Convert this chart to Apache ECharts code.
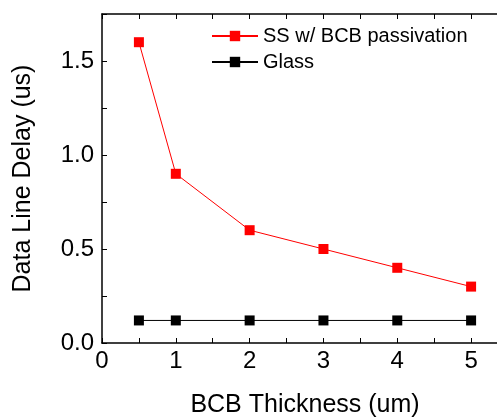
<!DOCTYPE html>
<html>
<head>
<meta charset="utf-8">
<script src="https://cdn.jsdelivr.net/npm/echarts@6/dist/echarts.min.js"></script>
<style>
  html, body { margin: 0; padding: 0; background: #fff; }
  #chart { width: 497px; height: 417px; }
</style>
</head>
<body>
<div id="chart"></div>
<script>
// BCB thickness (um) and measured data line delay (us)
const thickness = [0.5, 1, 2, 3, 4, 5];
const ssDelay = [1.6, 0.9, 0.6, 0.5, 0.4, 0.3];
const glassDelay = [0.12, 0.12, 0.12, 0.12, 0.12, 0.12];
const seriesNames = ['SS w/ BCB passivation', 'Glass'];

const FONT = 'Liberation Sans, Arial, sans-serif';

const chart = echarts.init(document.getElementById('chart'), null, { renderer: 'canvas' });

const pairs = (xs, ys) => xs.map((x, i) => [x, ys[i]]);

const axisLine = { show: true, lineStyle: { color: '#000', width: 1.5 } };
const axisTick = { show: true, inside: true, length: 5, lineStyle: { color: '#000', width: 1 } };

chart.setOption({
  animation: false,
  backgroundColor: '#fff',
  grid: { left: 102, top: 14, right: -11, bottom: 74, containLabel: false, outerBoundsMode: 'none' },
  legend: {
    orient: 'vertical',
    left: 206,
    top: 21,
    itemWidth: 46,
    itemHeight: 13,
    itemGap: 6,
    textStyle: { fontFamily: FONT, fontSize: 20, color: '#000' },
    data: seriesNames
  },
  xAxis: [
    {
      type: 'value',
      min: 0,
      max: 5.5,
      interval: 0.5,
      name: 'BCB Thickness (um)',
      nameLocation: 'middle',
      nameGap: 50,
      nameTextStyle: { fontFamily: FONT, fontSize: 25, color: '#000' },
      axisLine: axisLine,
      axisTick: axisTick,
      splitLine: { show: false },
      axisLabel: {
        fontFamily: FONT, fontSize: 24, color: '#000', margin: 6,
        formatter: v => (Math.abs(v - Math.round(v)) < 1e-9 ? String(Math.round(v)) : '')
      }
    },
    {
      type: 'value',
      position: 'top',
      min: 0,
      max: 5.5,
      interval: 0.5,
      axisLine: axisLine,
      axisTick: axisTick,
      axisLabel: { show: false },
      splitLine: { show: false }
    }
  ],
  yAxis: {
    type: 'value',
    min: 0,
    max: 1.75,
    interval: 0.25,
    name: 'Data Line Delay (us)',
    nameLocation: 'middle',
    nameGap: 66,
    nameTextStyle: { fontFamily: FONT, fontSize: 25, color: '#000' },
    axisLine: axisLine,
    axisTick: axisTick,
    splitLine: { show: false },
    axisLabel: {
      fontFamily: FONT, fontSize: 24, color: '#000', margin: 8,
      formatter: v => (Math.abs(v * 2 - Math.round(v * 2)) < 1e-9 ? v.toFixed(1) : '')
    }
  },
  series: [
    {
      name: seriesNames[0],
      type: 'line',
      data: pairs(thickness, ssDelay),
      symbol: 'rect',
      symbolSize: 10,
      lineStyle: { color: '#ff0000', width: 1 },
      itemStyle: { color: '#ff0000' }
    },
    {
      name: seriesNames[1],
      type: 'line',
      data: pairs(thickness, glassDelay),
      symbol: 'rect',
      symbolSize: 10,
      lineStyle: { color: '#000', width: 1 },
      itemStyle: { color: '#000' }
    }
  ]
});
</script>
</body>
</html>
